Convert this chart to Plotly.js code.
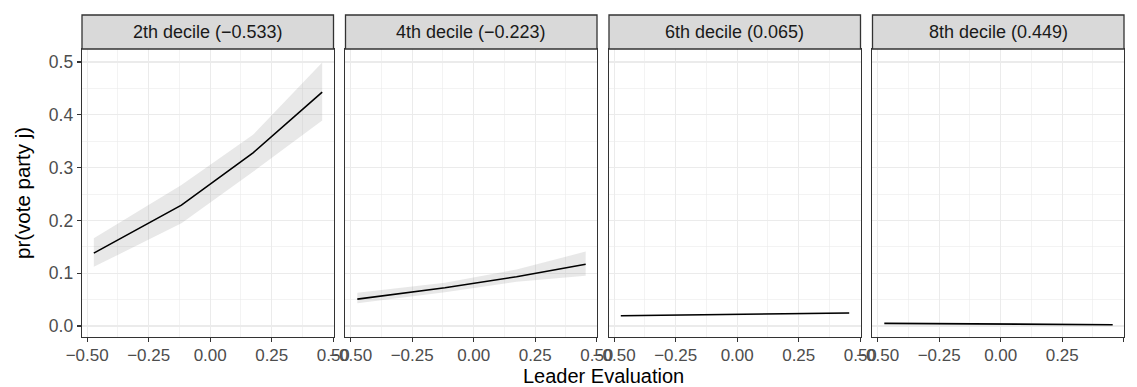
<!DOCTYPE html>
<html>
<head>
<meta charset="utf-8">
<script src="https://cdn.plot.ly/plotly-3.0.1.min.js"></script>
<style>html,body{margin:0;padding:0;background:#fff;}#chart{width:1137px;height:387px;}</style>
</head>
<body>
<div id="chart"></div>
<script>
// ---- data ----
var panelTitles = ["2th decile (\u22120.533)", "4th decile (\u22120.223)", "6th decile (0.065)", "8th decile (0.449)"];
var leaderEval = [-0.473, -0.117, 0.174, 0.455];

var fit2 = [0.138, 0.229, 0.328, 0.443];
var lo2  = [0.112, 0.1945, 0.292, 0.389];
var hi2  = [0.166, 0.267, 0.362, 0.499];

var fit4 = [0.051, 0.0726, 0.0934, 0.117];
var lo4  = [0.043, 0.0638, 0.084, 0.095];
var hi4  = [0.063, 0.082, 0.107, 0.141];

var fit6 = [0.0195, 0.021, 0.0225, 0.0246];
var lo6  = [0.018, 0.0196, 0.0210, 0.0228];
var hi6  = [0.021, 0.0224, 0.0240, 0.0264];

var fit8 = [0.0050, 0.0042, 0.0033, 0.0025];
var lo8  = [0.0042, 0.0035, 0.0027, 0.0019];
var hi8  = [0.0058, 0.0049, 0.0039, 0.0031];

var xTickVals = [-0.5, -0.25, 0, 0.25, 0.5];
var xTickText = ["\u22120.50", "\u22120.25", "0.00", "0.25", "0.50"];
var xMinorVals = [-0.375, -0.125, 0.125, 0.375];
var yTickVals = [0, 0.1, 0.2, 0.3, 0.4, 0.5];
var yTickText = ["0.0", "0.1", "0.2", "0.3", "0.4", "0.5"];
var yMinorVals = [0.05, 0.15, 0.25, 0.35, 0.45];

var xTitle = "Leader Evaluation";
var yTitle = "pr(vote party j)";

// ---- build ----
var fits = [fit2, fit4, fit6, fit8];
var los = [lo2, lo4, lo6, lo8];
var his = [hi2, hi4, hi6, hi8];

var W = 1137, H = 387;
var mL = 82, mR = 12.6, mT = 15, mB = 50;
var plotW = W - mL - mR, plotH = H - mT - mB;
var panelW = 251.6, gap = 12;
var stripH = 34;
var yTop = (plotH - stripH) / plotH;

var traces = [];
var layout = {
  width: W, height: H,
  margin: {l: mL, r: mR, t: mT, b: mB, pad: 0},
  paper_bgcolor: "#ffffff", plot_bgcolor: "#ffffff",
  showlegend: false,
  font: {family: "Liberation Sans, Arial, sans-serif"},
  shapes: [], annotations: []
};

var gridC = "#ebebeb", borderC = "#333333", tickTxtC = "#4d4d4d";

for (var i = 0; i < 4; i++) {
  var sfx = i === 0 ? "" : String(i + 1);
  var xa = "x" + sfx, ya = "y" + sfx;
  var d0 = (i * (panelW + gap)) / plotW, d1 = (i * (panelW + gap) + panelW) / plotW;
  if (d1 > 1) d1 = 1;

  var polyX = leaderEval.concat(leaderEval.slice().reverse());
  var polyY = his[i].concat(los[i].slice().reverse());
  traces.push({
    type: "scatter", mode: "lines", x: polyX, y: polyY,
    xaxis: xa, yaxis: ya, fill: "toself",
    fillcolor: "rgba(140,140,140,0.2)", line: {width: 0, color: "rgba(0,0,0,0)"},
    hoverinfo: "skip"
  });
  traces.push({
    type: "scatter", mode: "lines", x: leaderEval, y: fits[i],
    xaxis: xa, yaxis: ya, line: {color: "#000000", width: 1.6}
  });

  layout["xaxis" + sfx] = {
    domain: [d0, d1], anchor: ya, range: [-0.521, 0.501],
    tickmode: "array", tickvals: xTickVals, ticktext: xTickText, tickangle: 0,
    ticks: "outside", ticklen: 4, tickwidth: 1.1, tickcolor: borderC,
    ticklabelstandoff: -2,
    tickfont: {size: 17, color: tickTxtC},
    showgrid: true, gridcolor: gridC, gridwidth: 1.2,
    minor: {tickmode: "array", tickvals: xMinorVals, showgrid: true, gridcolor: gridC, gridwidth: 0.6, ticks: ""},
    showline: true, mirror: true, linecolor: borderC, linewidth: 1.3,
    zeroline: false, fixedrange: true
  };
  layout["yaxis" + sfx] = {
    domain: [0, yTop], anchor: xa, range: [-0.0208, 0.5246],
    tickmode: "array", tickvals: yTickVals, ticktext: yTickText,
    ticks: i === 0 ? "outside" : "", ticklen: 4, tickwidth: 1.1, tickcolor: borderC,
    showticklabels: i === 0,
    tickfont: {size: 17.5, color: tickTxtC},
    showgrid: true, gridcolor: gridC, gridwidth: 1.2,
    minor: {tickmode: "array", tickvals: yMinorVals, showgrid: true, gridcolor: gridC, gridwidth: 0.6, ticks: ""},
    showline: true, mirror: true, linecolor: borderC, linewidth: 1.3,
    zeroline: false, fixedrange: true
  };

  layout.shapes.push({
    type: "rect", xref: "paper", yref: "paper",
    x0: d0, x1: d1, y0: yTop, y1: 1,
    fillcolor: "#d9d9d9", line: {color: borderC, width: 1.3}
  });
  layout.annotations.push({
    xref: "paper", yref: "paper", x: (d0 + d1) / 2, y: (yTop + 1) / 2,
    xanchor: "center", yanchor: "middle", showarrow: false,
    text: panelTitles[i], font: {size: 18, color: "#1a1a1a"}
  });
}

layout.annotations.push({
  xref: "paper", yref: "paper", x: 0.5, y: (337 - 375.5) / plotH,
  xanchor: "center", yanchor: "middle", showarrow: false,
  text: xTitle, font: {size: 20, color: "#000000"}
});
layout.annotations.push({
  xref: "paper", yref: "paper", x: (22 - mL) / plotW, y: yTop / 2,
  xanchor: "center", yanchor: "middle", showarrow: false, textangle: -90,
  text: yTitle, font: {size: 20.5, color: "#000000"}
});

Plotly.newPlot("chart", traces, layout, {staticPlot: true, displayModeBar: false});
</script>
</body>
</html>
